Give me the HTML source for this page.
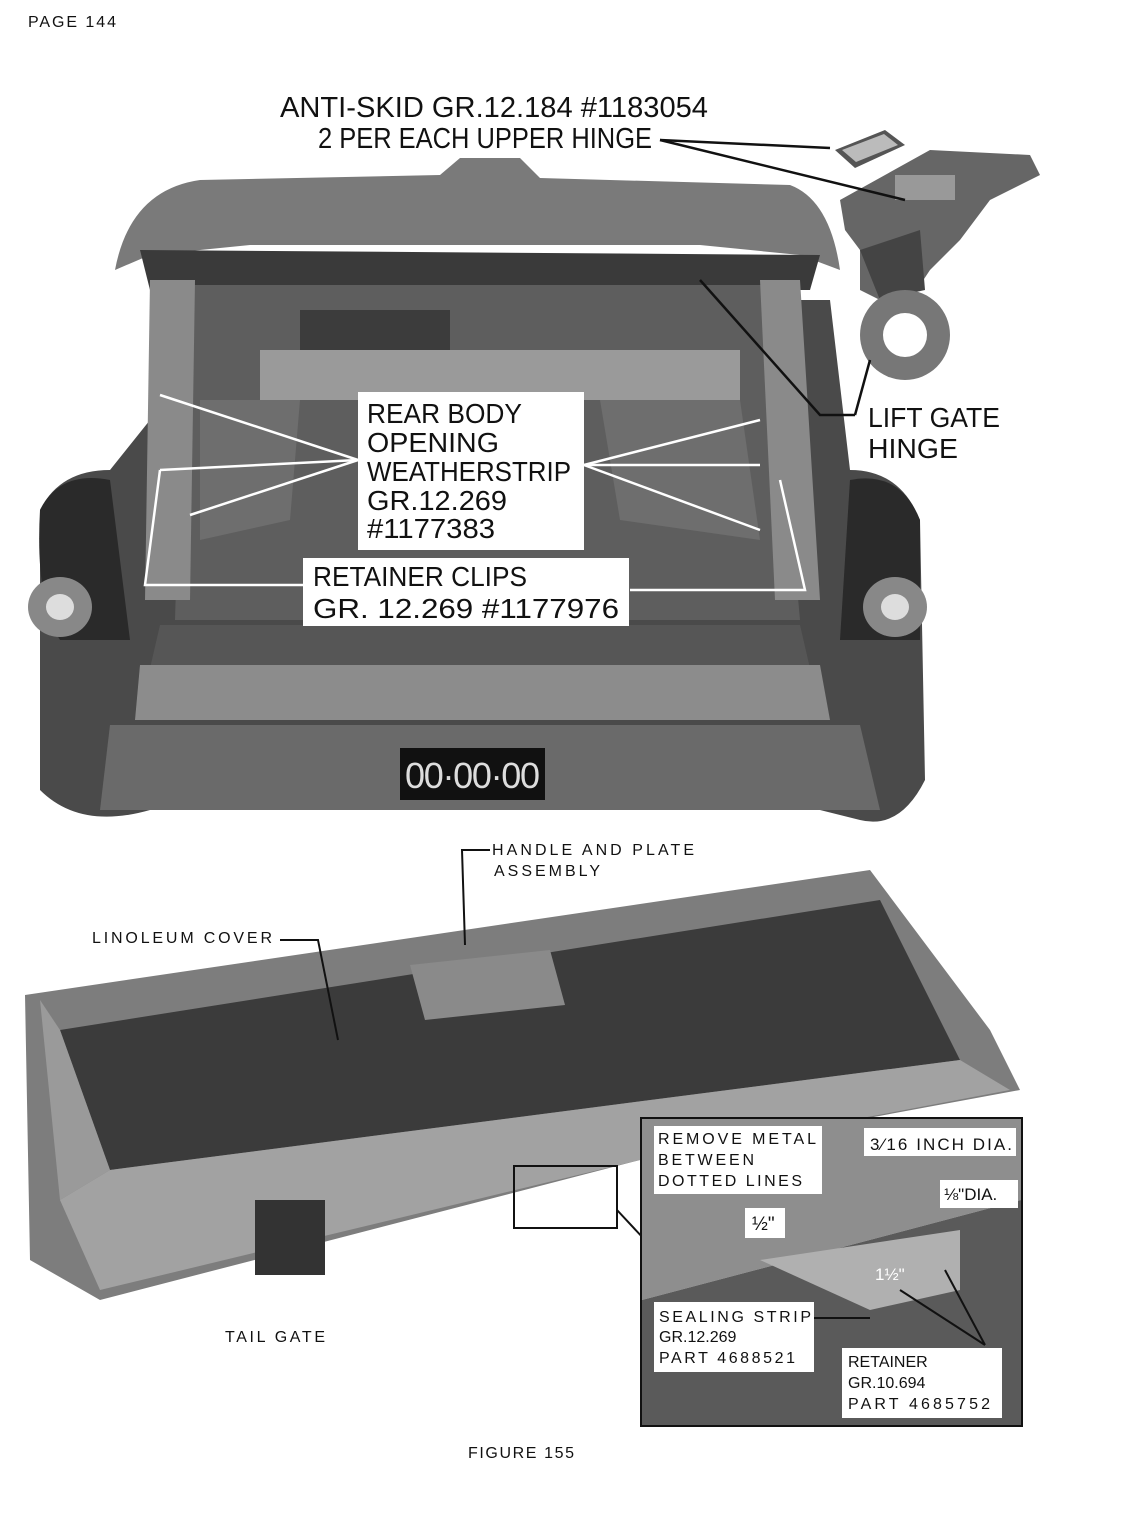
<!DOCTYPE html>
<html><head><meta charset="utf-8"><style>
html,body{margin:0;padding:0;background:#fff;}
body{width:1134px;height:1514px;position:relative;overflow:hidden;font-family:"Liberation Sans",sans-serif;}
svg{position:absolute;left:0;top:0;}
</style></head><body>
<svg width="1134" height="1514" viewBox="0 0 1134 1514" xmlns="http://www.w3.org/2000/svg" font-family="Liberation Sans, sans-serif">
<rect width="1134" height="1514" fill="#fff"/>
<text x="28" y="27" font-size="16" fill="#111" textLength="88">PAGE 144</text>

<g>
<path d="M40 510 Q60 470 110 470 L150 420 L150 300 L830 300 L850 470 Q900 470 920 520 L925 780 Q900 830 860 820 L780 800 L150 810 Q80 830 40 790 Z" fill="#4a4a4a"/>
<path d="M115 270 Q130 190 200 180 L440 175 L460 158 L520 158 L540 178 L790 185 Q830 200 840 270 L800 255 L700 245 L250 245 L150 255 Z" fill="#7a7a7a"/>
<path d="M140 250 L820 255 L810 290 L150 290 Z" fill="#3a3a3a"/>
<path d="M185 285 L770 285 L800 620 L175 620 Z" fill="#5e5e5e"/>
<rect x="260" y="350" width="480" height="50" fill="#9a9a9a"/>
<rect x="300" y="310" width="150" height="40" fill="#3c3c3c"/>
<path d="M200 400 L300 400 L290 520 L200 540 Z" fill="#6e6e6e"/>
<path d="M600 400 L740 400 L760 540 L620 520 Z" fill="#6e6e6e"/>
<path d="M150 280 L195 280 L190 600 L145 600 Z" fill="#8a8a8a"/>
<path d="M760 280 L800 280 L820 600 L775 600 Z" fill="#8a8a8a"/>
<path d="M40 510 Q60 470 110 480 L130 640 L60 640 Q35 600 40 510Z" fill="#2a2a2a"/>
<ellipse cx="60" cy="607" rx="32" ry="30" fill="#888"/><ellipse cx="60" cy="607" rx="14" ry="13" fill="#ddd"/>
<path d="M850 480 Q900 470 920 520 L920 640 L840 640 Z" fill="#2a2a2a"/>
<ellipse cx="895" cy="607" rx="32" ry="30" fill="#888"/><ellipse cx="895" cy="607" rx="14" ry="13" fill="#ddd"/>
<path d="M160 625 L800 625 L815 690 L145 690 Z" fill="#565656"/>
<path d="M140 665 L820 665 L830 720 L135 720 Z" fill="#8c8c8c"/>
<path d="M110 725 L860 725 L880 810 L100 810 Z" fill="#6a6a6a"/>
<rect x="400" y="748" width="145" height="52" fill="#111"/>
<text x="405" y="788" font-size="36" fill="#ddd" textLength="135">00·00·00</text>
</g>

<g>
<polygon points="835,150 885,130 905,145 855,168" fill="#555"/>
<polygon points="842,150 884,134 898,145 856,162" fill="#bbb"/>
<path d="M840 200 L930 150 L1030 155 L1040 175 L990 200 L960 240 L930 270 L910 300 L880 300 L860 290 L860 250 L845 230 Z" fill="#666"/>
<path d="M860 250 L920 230 L925 290 L880 300 Z" fill="#444"/>
<ellipse cx="905" cy="335" rx="45" ry="45" fill="#777"/><ellipse cx="905" cy="335" rx="22" ry="22" fill="#fff"/>
<rect x="895" y="175" width="60" height="25" fill="#999"/>
</g>

<text x="280" y="117" font-size="29" fill="#111" textLength="428" lengthAdjust="spacingAndGlyphs">ANTI-SKID GR.12.184 #1183054</text>
<text x="318" y="148" font-size="29" fill="#111" textLength="334" lengthAdjust="spacingAndGlyphs">2 PER EACH UPPER HINGE</text>
<g stroke="#111" stroke-width="2.5" fill="none">
<path d="M660 140 L830 148"/><path d="M660 140 L905 200"/>
<path d="M700 280 L820 415 L855 415"/><path d="M855 415 L870 360"/>
</g>
<text x="868" y="427" font-size="28" fill="#111" textLength="132" lengthAdjust="spacingAndGlyphs">LIFT GATE</text>
<text x="868" y="458" font-size="28" fill="#111" textLength="90" lengthAdjust="spacingAndGlyphs">HINGE</text>

<g stroke="#fff" stroke-width="2.5" fill="none">
<path d="M358 460 L160 395"/><path d="M358 460 L190 515"/><path d="M358 460 L160 470"/>
<path d="M584 465 L760 420"/><path d="M584 465 L760 530"/><path d="M584 465 L760 465"/>
<path d="M303 585 L145 585 L160 470"/><path d="M630 590 L805 590 L780 480"/>
</g>
<rect x="358" y="392" width="226" height="158" fill="#fff"/>
<g font-size="28" fill="#111" lengthAdjust="spacingAndGlyphs">
<text x="367" y="423" textLength="155" lengthAdjust="spacingAndGlyphs">REAR BODY</text>
<text x="367" y="452" textLength="132" lengthAdjust="spacingAndGlyphs">OPENING</text>
<text x="367" y="481" textLength="204" lengthAdjust="spacingAndGlyphs">WEATHERSTRIP</text>
<text x="367" y="510" textLength="140" lengthAdjust="spacingAndGlyphs">GR.12.269</text>
<text x="367" y="538" textLength="128" lengthAdjust="spacingAndGlyphs">#1177383</text>
</g>
<rect x="303" y="558" width="326" height="68" fill="#fff"/>
<text x="313" y="586" font-size="28" fill="#111" textLength="214" lengthAdjust="spacingAndGlyphs">RETAINER CLIPS</text>
<text x="313" y="618" font-size="28" fill="#111" textLength="306" lengthAdjust="spacingAndGlyphs">GR. 12.269  #1177976</text>

<path d="M25 995 L870 870 L990 1030 L1020 1090 L640 1160 L100 1300 L30 1260 Z" fill="#7d7d7d"/>
<path d="M60 1030 L880 900 L960 1060 L110 1170 Z" fill="#3b3b3b"/>
<path d="M40 1000 L60 1030 L110 1170 L60 1200 Z" fill="#9a9a9a"/>
<path d="M60 1200 L110 1170 L960 1060 L1010 1090 L640 1160 L100 1290 Z" fill="#a2a2a2"/>
<path d="M410 965 L550 950 L565 1005 L425 1020 Z" fill="#8a8a8a"/>
<rect x="255" y="1200" width="70" height="75" fill="#333"/>
<rect x="514" y="1166" width="103" height="62" fill="none" stroke="#111" stroke-width="2"/>
<path d="M617 1210 L645 1240" stroke="#111" stroke-width="2"/>
<text x="492" y="855" font-size="16" fill="#111" textLength="202">HANDLE AND PLATE</text>
<text x="494" y="876" font-size="16" fill="#111" textLength="106">ASSEMBLY</text>
<path d="M490 850 L462 850 L465 945" stroke="#111" stroke-width="2" fill="none"/>
<text x="92" y="943" font-size="16" fill="#111" textLength="180">LINOLEUM COVER</text>
<path d="M280 940 L318 940 L338 1040" stroke="#111" stroke-width="2" fill="none"/>
<text x="225" y="1342" font-size="16" fill="#111" textLength="100">TAIL GATE</text>

<rect x="641" y="1118" width="381" height="308" fill="#fff" stroke="#111" stroke-width="2"/>
<path d="M642 1119 L1021 1119 L1021 1200 L642 1300 Z" fill="#8e8e8e"/>
<path d="M642 1300 L1021 1200 L1021 1425 L642 1425 Z" fill="#5a5a5a"/>
<path d="M760 1260 L960 1230 L960 1290 L870 1310 Z" fill="#b0b0b0"/>
<rect x="654" y="1126" width="168" height="68" fill="#fff"/>
<g font-size="16" fill="#111"><text x="658" y="1144" textLength="158">REMOVE METAL</text><text x="658" y="1165" textLength="96">BETWEEN</text><text x="658" y="1186" textLength="144">DOTTED LINES</text></g>
<rect x="864" y="1128" width="152" height="28" fill="#fff"/>
<text x="870" y="1150" font-size="17" fill="#111" textLength="142">3⁄16 INCH DIA.</text>
<rect x="940" y="1180" width="78" height="28" fill="#fff"/>
<text x="944" y="1200" font-size="17" fill="#111">⅛"DIA.</text>
<rect x="745" y="1208" width="40" height="30" fill="#fff"/>
<text x="752" y="1230" font-size="19" fill="#111">½"</text>
<text x="875" y="1280" font-size="17" fill="#fff">1½"</text>
<rect x="654" y="1302" width="160" height="70" fill="#fff"/>
<g font-size="16" fill="#111"><text x="659" y="1322" textLength="152">SEALING STRIP</text><text x="659" y="1342">GR.12.269</text><text x="659" y="1363" textLength="136">PART 4688521</text></g>
<rect x="842" y="1348" width="160" height="70" fill="#fff"/>
<g font-size="16" fill="#111"><text x="848" y="1367">RETAINER</text><text x="848" y="1388">GR.10.694</text><text x="848" y="1409" textLength="142">PART 4685752</text></g>
<g stroke="#111" stroke-width="2" fill="none">
<path d="M814 1318 L870 1318"/><path d="M985 1345 L945 1270"/><path d="M985 1345 L900 1290"/>
</g>
<text x="468" y="1458" font-size="16" fill="#111" textLength="106">FIGURE 155</text>
</svg>
</body></html>
